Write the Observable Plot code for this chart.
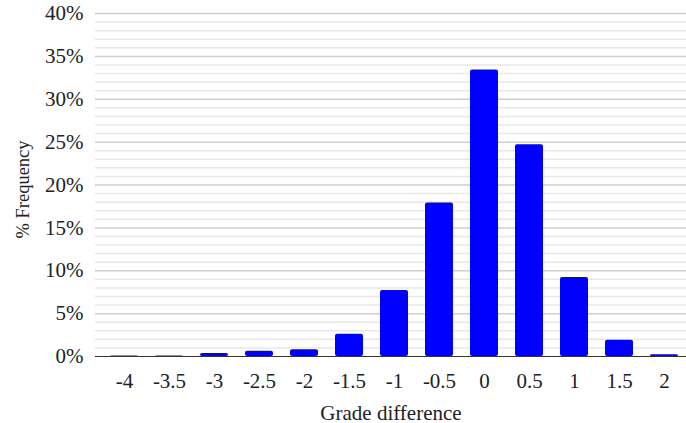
<!DOCTYPE html>
<html><head><meta charset="utf-8">
<script src="https://cdn.jsdelivr.net/npm/d3@7"></script>
<script src="https://cdn.jsdelivr.net/npm/@observablehq/plot@0.6"></script>
<style>body{margin:0;background:#fff} svg text{font-family:'Liberation Serif','Times New Roman',serif}</style>
</head><body><div id="chart"></div>
<script>
const categories = ["-4","-3.5","-3","-2.5","-2","-1.5","-1","-0.5","0","0.5","1","1.5","2"];
const frequency = [0.05,0.05,0.35,0.6,0.8,2.6,7.7,17.9,33.4,24.7,9.2,1.9,0.2];
const majorTicks = [0,5,10,15,20,25,30,35,40];
const minorTicks = d3.range(0,41).filter(v => v % 5 !== 0);

const data = categories.map((c,i) => ({c, v: frequency[i]}));
const font = "'Liberation Serif', 'Times New Roman', serif";

const chart = Plot.plot({
  width: 686, height: 423,
  marginLeft: 95, marginRight: 0, marginTop: 13, marginBottom: 67,
  style: {fontFamily: font, fontSize: "21px", color: "#222", background: "#fff"},
  x: {domain: categories, paddingInner: 0.38, paddingOuter: 0.19, insetLeft: 6, label: null},
  y: {domain: [0,40], label: null},
  marks: [
    Plot.ruleY(minorTicks, {stroke: "#e8e8e8", strokeWidth: 1.5}),
    Plot.ruleY(majorTicks.filter(d => d>0), {stroke: "#cfcfcf", strokeWidth: 1.5}),
    Plot.barY(data, {x: "c", y: "v", fill: "#0000ff", rx: 2}),
    Plot.ruleY([0], {stroke: "#333", strokeWidth: 1.2}),
    Plot.axisY(majorTicks, {tickSize: 0, tickPadding: 12, tickFormat: d => d + "%", fontSize: 21, fontFamily: font, label: null}),
    Plot.axisX({tickSize: 0, tickPadding: 17, fontSize: 21, fontFamily: font, label: null}),
    Plot.text(["Grade difference"], {frameAnchor: "bottom", dy: 63, fontSize: 21, fontFamily: font, textAnchor: "middle", lineAnchor: "bottom", text: d => d}),
    Plot.text(["% Frequency"], {frameAnchor: "left", dx: -72, dy: 4.5, rotate: -90, textAnchor: "middle", lineAnchor: "middle", fontSize: 18.5, fontFamily: font, text: d => d})
  ]
});
document.getElementById("chart").appendChild(chart);
</script></body></html>
